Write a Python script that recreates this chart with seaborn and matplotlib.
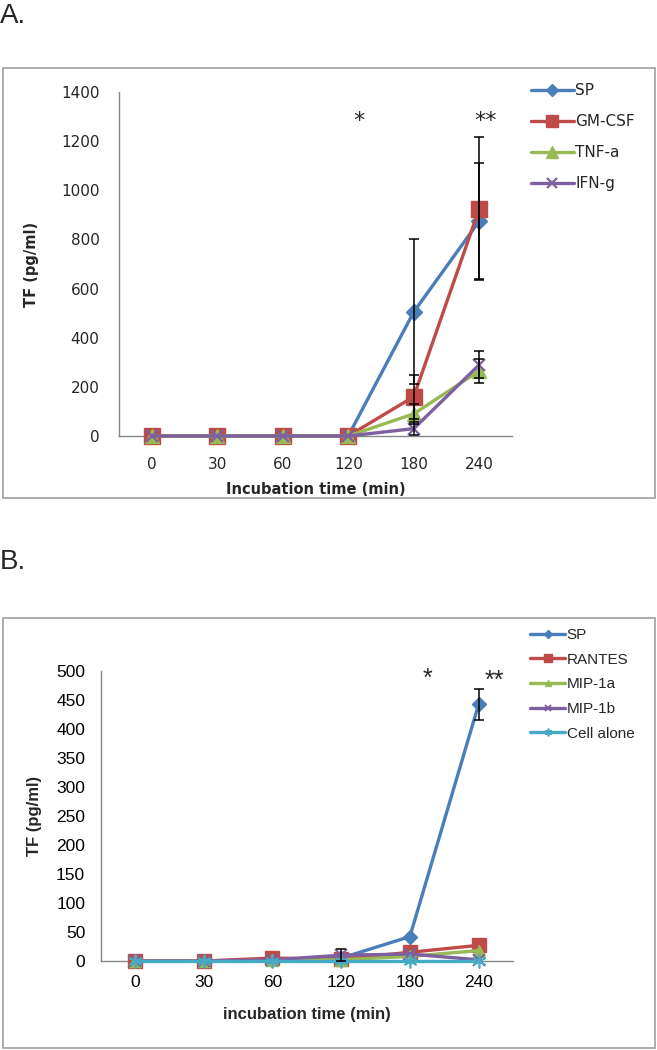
import matplotlib
matplotlib.use("Agg")
import matplotlib.pyplot as plt
import seaborn as sns
import pandas as pd
from matplotlib.patches import Rectangle

# ---------------- data ----------------
time_labels = ["0", "30", "60", "120", "180", "240"]

# Panel A
a_series = ["SP", "GM-CSF", "TNF-a", "IFN-g"]
a_sp = [0, 0, 0, 0, 505, 875]
a_gmcsf = [0, 0, 0, 0, 160, 925]
a_tnfa = [0, 0, 0, 0, 90, 265]
a_ifng = [0, 0, 0, 0, 30, 290]
a_sp_err = [0, 0, 0, 0, 295, 235]
a_gmcsf_err = [0, 0, 0, 0, 90, 290]
a_tnfa_err = [0, 0, 0, 0, 42, 50]
a_ifng_err = [0, 0, 0, 0, 25, 55]
a_yticks = [0, 200, 400, 600, 800, 1000, 1200, 1400]

# Panel B
b_series = ["SP", "RANTES", "MIP-1a", "MIP-1b", "Cell alone"]
b_sp = [0, 0, 2, 5, 42, 442]
b_rantes = [0, 0, 5, 3, 15, 27]
b_mip1a = [0, 0, 1, 2, 8, 18]
b_mip1b = [0, 0, 2, 10, 12, 2]
b_cell = [0, 0, 0, 0, 0, 0]
b_sp_err = [0, 0, 0, 0, 0, 27]
b_rantes_err = [0, 0, 0, 0, 0, 0]
b_mip1a_err = [0, 0, 0, 0, 0, 0]
b_mip1b_err = [0, 0, 0, 10, 0, 0]
b_cell_err = [0, 0, 0, 0, 0, 0]
b_yticks = [0, 50, 100, 150, 200, 250, 300, 350, 400, 450, 500]

# ---------------- style ----------------
sns.set_style("white")
plt.rcParams["font.family"] = ["DejaVu Sans"]

BLUE = "#4A7EBB"
RED = "#BE4B48"
GREEN = "#98B954"
PURPLE = "#7D60A0"
AQUA = "#46AAC5"
AXIS_GREY = "#868686"
BOX_GREY = "#a6a6a6"

W, H = 657, 1050
fig = plt.figure(figsize=(W / 100, H / 100), dpi=100)


def fx(px):
    return px / W


def fy(py):
    return 1 - py / H


# outer boxes
for top, bot in [(68, 498), (618, 1048)]:
    fig.add_artist(Rectangle((fx(3), fy(bot)), fx(655) - fx(3), fy(top) - fy(bot),
                             transform=fig.transFigure, fill=False,
                             ec=BOX_GREY, lw=1.3))

# panel letters
fig.text(0.0, fy(3), "A.", fontsize=20, family="Liberation Sans", va="top", ha="left")
fig.text(0.0, fy(549), "B.", fontsize=20, family="Liberation Sans", va="top", ha="left")


def draw_panel(ax, names, values, errs, colors, markers, msizes, mews, lw):
    for name, vals, col, mk, ms, mew in zip(names, values, colors, markers, msizes, mews):
        df = pd.DataFrame({"time": time_labels, "TF": vals})
        sns.lineplot(data=df, x="time", y="TF", ax=ax, color=col, marker=mk,
                     markersize=ms, markeredgecolor=col, markeredgewidth=mew,
                     linewidth=lw, label=name, clip_on=False, zorder=3,
                     sort=False)
    for vals, e in zip(values, errs):
        idx = [i for i, v in enumerate(e) if v > 0]
        if idx:
            ax.errorbar([time_labels[i] for i in idx], [vals[i] for i in idx],
                        yerr=[e[i] for i in idx], fmt="none", ecolor="black",
                        elinewidth=1.1, capsize=3.5, capthick=1.1, zorder=4,
                        clip_on=False)
    for s in ["top", "right"]:
        ax.spines[s].set_visible(False)
    for s in ["left", "bottom"]:
        ax.spines[s].set_color(AXIS_GREY)
        ax.spines[s].set_linewidth(1.0)
    ax.set_xlim(-0.5, 5.5)


# ---------------- Panel A ----------------
axA = fig.add_axes([fx(119), fy(436), fx(512) - fx(119), fy(92) - fy(436)])
draw_panel(axA, a_series, [a_sp, a_gmcsf, a_tnfa, a_ifng],
           [a_sp_err, a_gmcsf_err, a_tnfa_err, a_ifng_err],
           [BLUE, RED, GREEN, PURPLE], ["D", "s", "^", "x"],
           [8, 11, 10, 9], [1, 1, 1, 1.6], 2.4)
axA.set_ylim(0, 1400)
axA.set_yticks(a_yticks)
axA.tick_params(axis="y", length=0, pad=14, labelsize=11, labelcolor="#262626")
axA.tick_params(axis="x", length=0, pad=15, labelsize=11, labelcolor="#262626")
axA.set_xlabel("Incubation time (min)", fontsize=10.5, fontweight="bold", color="#262626")
axA.set_ylabel("TF (pg/ml)", fontsize=10.5, fontweight="bold", color="#262626")
axA.xaxis.set_label_coords(0.5, -0.135)
axA.yaxis.set_label_coords(-0.203, 0.5)
axA.text(3.17, 1280, "*", fontsize=16, ha="center", va="center", color="#262626")
axA.text(5.1, 1280, "**", fontsize=16, ha="center", va="center", color="#262626")
hA, lA = axA.get_legend_handles_labels()
axA.get_legend().remove()
fig.legend(hA, lA, loc="upper left", bbox_to_anchor=(fx(531), fy(83)),
           frameon=False, fontsize=11, handlelength=2.8, handletextpad=0.1,
           labelspacing=1.05, borderpad=0, borderaxespad=0, markerscale=0.8,
           labelcolor="#262626")

# ---------------- Panel B ----------------
axB = fig.add_axes([fx(100.5), fy(961), fx(513) - fx(100.5), fy(670.7) - fy(961)])
draw_panel(axB, b_series, [b_sp, b_rantes, b_mip1a, b_mip1b, b_cell],
           [b_sp_err, b_rantes_err, b_mip1a_err, b_mip1b_err, b_cell_err],
           [BLUE, RED, GREEN, PURPLE, AQUA], ["D", "s", "^", "x", (6, 2, 0)],
           [7, 10, 8, 8, 10], [1, 1, 1, 1.4, 1.2], 2.4)
axB.set_ylim(0, 500)
axB.set_yticks(b_yticks)
for lab in axB.get_xticklabels() + axB.get_yticklabels():
    lab.set_family("Liberation Sans")
axB.tick_params(axis="y", length=0, pad=11, labelsize=12.5, labelcolor="black")
axB.tick_params(axis="x", length=0, pad=10, labelsize=12.5, labelcolor="black")
axB.set_xlabel("incubation time (min)", fontsize=12, fontweight="bold",
               family="Liberation Sans")
axB.set_ylabel("TF (pg/ml)", fontsize=12, fontweight="bold", family="Liberation Sans")
axB.xaxis.set_label_coords(0.5, -0.158)
axB.yaxis.set_label_coords(-0.143, 0.5)
axB.text(4.25, 486, "*", fontsize=18, ha="center", va="center", family="Liberation Sans")
axB.text(5.23, 482, "**", fontsize=18, ha="center", va="center", family="Liberation Sans")
hB, lB = axB.get_legend_handles_labels()
axB.get_legend().remove()
fig.legend(hB, lB, loc="upper left", bbox_to_anchor=(fx(530), fy(628)),
           frameon=False, handlelength=2.3, handletextpad=0.1,
           labelspacing=0.7, borderpad=0, borderaxespad=0, markerscale=0.55,
           prop={"family": "Liberation Sans", "size": 11})

fig.savefig("out.png", dpi=100)
